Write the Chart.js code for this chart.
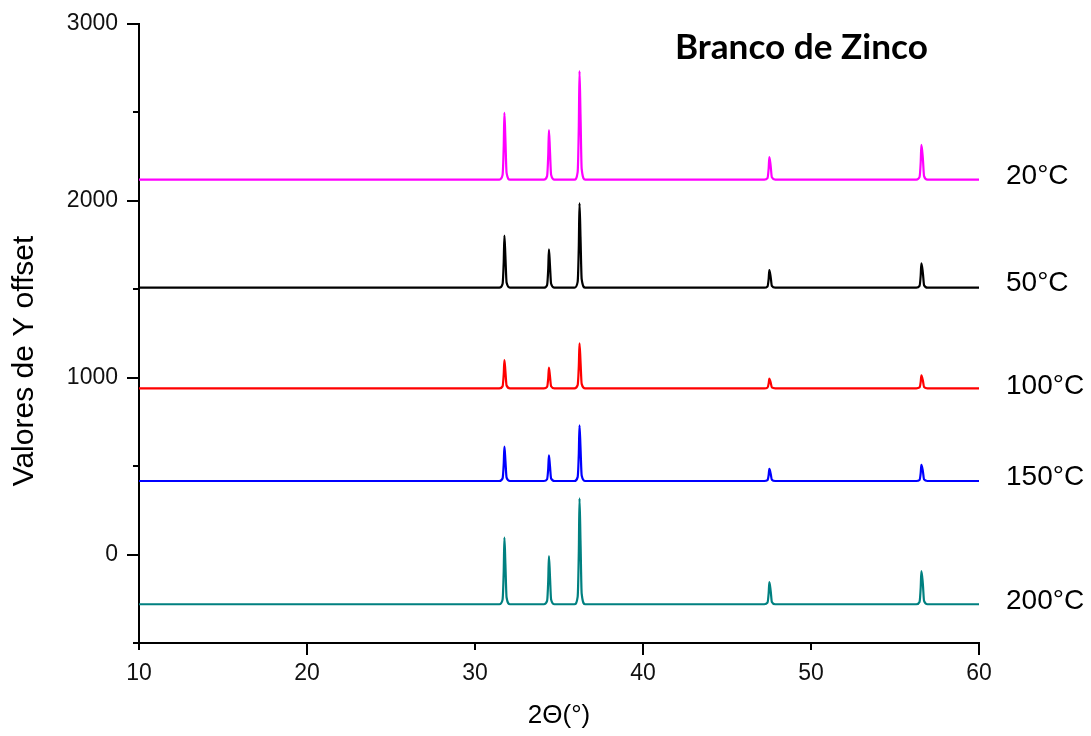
<!DOCTYPE html>
<html>
<head>
<meta charset="utf-8">
<script src="https://cdn.jsdelivr.net/npm/chart.js@4/dist/chart.umd.min.js"></script>
<style>
  html, body { margin: 0; padding: 0; background: #fff; }
  #wrap { width: 1091px; height: 736px; position: relative; }
</style>
</head>
<body>
<div id="wrap"><canvas id="c"></canvas></div>
<script>
// 2θ positions (degrees)
const theta = [10,
  31.45, 31.64, 31.71, 31.75, 31.81, 31.88, 32.08,
  34.10, 34.29, 34.36, 34.40, 34.46, 34.53, 34.73,
  35.92, 36.11, 36.18, 36.22, 36.28, 36.35, 36.56,
  47.22, 47.41, 47.48, 47.52, 47.60, 47.67, 47.87,
  56.27, 56.46, 56.53, 56.57, 56.66, 56.73, 56.93,
  60];

// Offset intensities
const s20 = [2120,
  2120, 2146, 2308, 2497, 2346, 2158, 2120,
  2120, 2140, 2260, 2400, 2288, 2148, 2120,
  2120, 2163, 2427, 2734, 2488, 2181, 2120,
  2120, 2129, 2184, 2248, 2197, 2133, 2120,
  2120, 2134, 2218, 2316, 2238, 2140, 2120,
  2120];
const s50 = [1509,
  1509, 1530, 1656, 1803, 1685, 1538, 1509,
  1509, 1524, 1617, 1726, 1639, 1531, 1509,
  1509, 1542, 1747, 1986, 1795, 1557, 1509,
  1509, 1516, 1559, 1609, 1569, 1519, 1509,
  1509, 1519, 1578, 1647, 1592, 1523, 1509,
  1509];
const s100 = [940,
  940, 951, 1020, 1100, 1036, 956, 940,
  940, 948, 998, 1057, 1010, 952, 940,
  940, 958, 1067, 1195, 1093, 965, 940,
  940, 944, 967, 995, 973, 945, 940,
  940, 945, 977, 1014, 984, 947, 940,
  940];
const s150 = [416,
  416, 430, 513, 610, 532, 435, 416,
  416, 426, 488, 561, 503, 430, 416,
  416, 438, 573, 731, 605, 447, 416,
  416, 421, 450, 484, 457, 423, 416,
  416, 422, 461, 507, 471, 425, 416,
  416];
const s200 = [-281,
  -281, -255, -93, 96, -55, -243, -281,
  -281, -262, -145, -8, -117, -254, -281,
  -281, -239, 18, 318, 78, -221, -281,
  -281, -272, -218, -155, -205, -268, -281,
  -281, -268, -187, -93, -168, -262, -281,
  -281];

const seriesNames = ['20°C', '50°C', '100°C', '150°C', '200°C'];
const seriesColors = ['#FF00FF', '#000000', '#FF0000', '#0000FF', '#008080'];
const seriesData = [s20, s50, s100, s150, s200];
const seriesLabelBaseY = [184, 291, 394, 485, 609]; // label placement (px)

const xTicks = [10, 20, 30, 40, 50, 60];
const xLongTicks = [20, 40, 60];
const yTicks = [0, 1000, 2000, 3000];
const yMinorTicks = [-500, 500, 1500, 2500];

const chartTitle = 'Branco de Zinco';
const xTitle = '2Θ(°)';
const yTitle = 'Valores de Y offset';

const FONT = '"Liberation Sans", Arial, sans-serif';

const datasets = seriesData.map((vals, k) => ({
  label: seriesNames[k],
  data: theta.map((x, i) => ({ x: x, y: vals[i] })),
  borderColor: seriesColors[k],
  borderWidth: 2.2,
  pointRadius: 0,
  fill: false,
  cubicInterpolationMode: 'monotone'
}));

const decor = {
  id: 'decor',
  afterDraw(chart) {
    const ctx = chart.ctx;
    const xs = chart.scales.x, ys = chart.scales.y;
    const area = chart.chartArea;
    ctx.save();
    ctx.strokeStyle = '#000';
    ctx.lineWidth = 2;
    // x ticks
    xTicks.forEach(v => {
      const px = Math.round(xs.getPixelForValue(v));
      const len = xLongTicks.includes(v) ? 12 : 7;
      ctx.beginPath();
      ctx.moveTo(px, area.bottom);
      ctx.lineTo(px, area.bottom + len);
      ctx.stroke();
    });
    // y ticks
    yTicks.forEach(v => {
      const py = Math.round(ys.getPixelForValue(v));
      ctx.beginPath();
      ctx.moveTo(area.left - 12, py);
      ctx.lineTo(area.left, py);
      ctx.stroke();
    });
    yMinorTicks.forEach(v => {
      const py = Math.round(ys.getPixelForValue(v));
      ctx.beginPath();
      ctx.moveTo(area.left - 6, py);
      ctx.lineTo(area.left, py);
      ctx.stroke();
    });

    ctx.fillStyle = '#000';
    // series labels
    ctx.font = '28px ' + FONT;
    ctx.textAlign = 'left';
    ctx.textBaseline = 'alphabetic';
    seriesNames.forEach((n, k) => {
      ctx.fillText(n, 1006, seriesLabelBaseY[k]);
    });

    // x title
    ctx.font = '26px ' + FONT;
    ctx.textAlign = 'center';
    ctx.fillText(xTitle, (area.left + area.right) / 2, 723);

    // y title
    ctx.save();
    ctx.translate(33, 361);
    ctx.rotate(-Math.PI / 2);
    ctx.font = '30px ' + FONT;
    ctx.textAlign = 'center';
    ctx.textBaseline = 'alphabetic';
    ctx.fillText(yTitle, 0, 0);
    ctx.restore();

    // chart title
    let size = 32;
    ctx.font = 'bold ' + size + 'px Lato, "Open Sans", sans-serif';
    const w = ctx.measureText(chartTitle).width;
    size = size * 253 / w;
    ctx.font = 'bold ' + size.toFixed(2) + 'px Lato, "Open Sans", sans-serif';
    ctx.textAlign = 'left';
    ctx.fillText(chartTitle, 675, 59);
    ctx.restore();
  }
};

new Chart(document.getElementById('c'), {
  type: 'line',
  data: { datasets: datasets },
  options: {
    responsive: true,
    maintainAspectRatio: false,
    animation: false,
    layout: { padding: { top: 24, right: 112, left: 0, bottom: 0 } },
    plugins: {
      legend: { display: false },
      tooltip: { enabled: false }
    },
    scales: {
      x: {
        type: 'linear',
        min: 10, max: 60,
        afterBuildTicks: s => { s.ticks = xTicks.map(v => ({ value: v })); },
        afterFit: s => { s.height = 93; s.paddingLeft = 0; s.paddingRight = 0; },
        grid: { display: false, drawTicks: false },
        border: { display: true, color: '#000', width: 2 },
        ticks: { color: '#111', font: { family: FONT, size: 23 }, padding: 17, maxRotation: 0,
                 callback: v => String(v) }
      },
      y: {
        type: 'linear',
        min: -500, max: 3000,
        afterBuildTicks: s => { s.ticks = yTicks.map(v => ({ value: v })); },
        afterFit: s => { s.width = 139; s.paddingTop = 0; s.paddingBottom = 0; },
        grid: { display: false, drawTicks: false },
        border: { display: true, color: '#000', width: 2 },
        ticks: { color: '#111', font: { family: FONT, size: 23 }, padding: 21,
                 callback: v => String(v) }
      }
    }
  },
  plugins: [decor]
});
</script>
</body>
</html>
